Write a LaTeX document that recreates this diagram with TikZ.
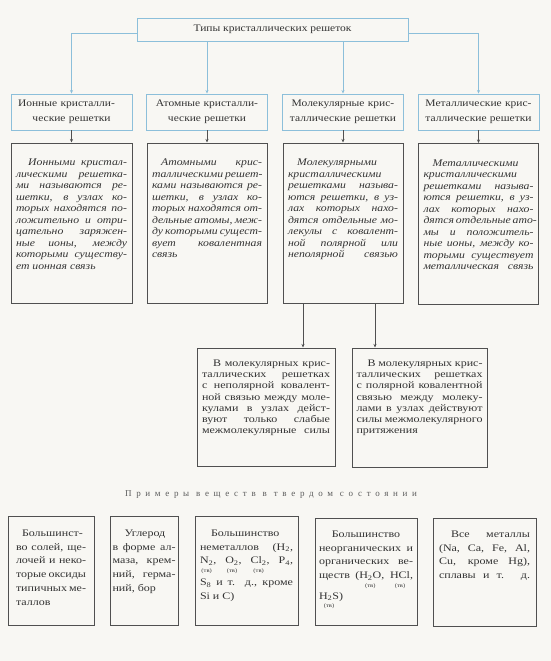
\documentclass[tikz,border=0pt]{standalone}
\usepackage{fontspec}
\setmainfont[FakeStretch=1.15]{Liberation Serif}
\newfontfamily\wide[FakeStretch=1.2]{Liberation Serif}
\newfontfamily\itf[FakeStretch=1.15]{Liberation Serif Italic}
\newfontfamily\spacedfont[LetterSpace=52]{Liberation Serif}
\usetikzlibrary{arrows.meta}
\definecolor{bg}{HTML}{F8F7F3}
\definecolor{bl}{HTML}{8CBFDA}
\definecolor{ink}{HTML}{333333}
\definecolor{frm}{HTML}{505050}
\newcommand\JL[1]{\makebox[\linewidth][s]{#1}}
% width height padx padtop content
\newcommand\bx[5]{\parbox[c][#2][t]{#1}{\vspace*{#4}\hspace*{#3}\begin{minipage}[t]{\dimexpr#1-#3-#3\relax}#5\end{minipage}}}
\newcommand\tv[1]{\leavevmode\setbox0\hbox{#1}\rlap{\raisebox{-8.5pt}[0pt][0pt]{\hbox to \wd0{\hss\fontsize{5.5}{6}\selectfont(тв)\hss}}}\box0}
\newcommand\sub[1]{\textsubscript{#1}}
\tikzset{
  tbox/.style={draw=bl, line width=0.9pt, inner sep=0pt, minimum width=271pt, minimum height=23pt, text=ink, font=\fontsize{10}{12}\selectfont},
  rbox/.style={draw=bl, line width=0.9pt, inner sep=0pt, minimum width=121pt, minimum height=36pt, text width=121pt, align=center, text=ink, font=\fontsize{10}{14.5}\selectfont},
  gbox/.style={draw=frm, line width=1pt, inner sep=0pt, text=ink},
  bconn/.style={draw=bl, line width=0.8pt, -{Stealth[length=3.5pt,width=3pt]}},
  gconn/.style={draw=frm, line width=0.7pt, -{Stealth[length=3.5pt,width=3pt]}},
}
\begin{document}
\begin{tikzpicture}[x=1pt,y=-1pt]
\fill[bg] (0,0) rectangle (551,661);
\useasboundingbox (0,0) rectangle (551,661);

\node[tbox] (top) at (272.5,29.5) {Типы кристаллических решеток};

\node[rbox] (i2) at (71.5,112) {\makebox[107pt][s]{Ионные кристалли-}\\ческие решетки};
\node[rbox] (a2) at (207,112) {Атомные кристалли-\\ческие решетки};
\node[rbox] (mo2) at (343,112) {Молекулярные крис-\\таллические решетки};
\node[rbox] (me2) at (478.5,112) {Металлические крис-\\таллические решетки};

\draw[bconn] ([yshift=-3.5pt]top.west) -| (i2.north);
\draw[bconn] (top.south -| a2.north) -- (a2.north);
\draw[bconn] (top.south -| mo2.north) -- (mo2.north);
\draw[bconn] ([yshift=-3.5pt]top.east) -| (me2.north);

\node[gbox] (i3) at (71.5,223) {\bx{121pt}{160pt}{5pt}{16pt}{\itf\fontsize{10.2}{11.5}\selectfont
\JL{\hspace*{1.2em}Ионными кристал-}\\
\JL{лическими решетка-}\\
\JL{ми называются ре-}\\
\JL{шетки, в узлах ко-}\\
\JL{торых находятся по-}\\
\JL{ложительно и отри-}\\
\JL{цательно заряжен-}\\
\JL{ные ионы, между}\\
\JL{которыми существу-}\\
ет ионная связь}};

\node[gbox] (a3) at (207,223) {\bx{120pt}{160pt}{5pt}{16pt}{\itf\fontsize{10.2}{11.5}\selectfont
\JL{\hspace*{0.9em}Атомными крис-}\\
\JL{таллическими решет-}\\
\JL{ками называются ре-}\\
\JL{шетки, в узлах ко-}\\
\JL{торых находятся от-}\\
\JL{дельные атомы, меж-}\\
\JL{ду которыми сущест-}\\
\JL{вует ковалентная}\\
связь}};

\node[gbox] (mo3) at (343,223) {\bx{120pt}{160pt}{5pt}{16pt}{\itf\fontsize{10.2}{11.5}\selectfont
\hspace*{0.9em}Молекулярными\\
кристаллическими\\
\JL{решетками называ-}\\
\JL{ются решетки, в уз-}\\
\JL{лах которых нахо-}\\
\JL{дятся отдельные мо-}\\
\JL{лекулы с ковалент-}\\
\JL{ной полярной или}\\
\JL{неполярной связью}}};

\node[gbox] (me3) at (478.5,224) {\bx{120pt}{161pt}{5pt}{16pt}{\itf\fontsize{10.2}{11.5}\selectfont
\hspace*{0.9em}Металлическими\\
кристаллическими\\
\JL{решетками называ-}\\
\JL{ются решетки, в уз-}\\
\JL{лах которых нахо-}\\
\JL{дятся отдельные ато-}\\
\JL{мы и положитель-}\\
\JL{ные ионы, между ко-}\\
\JL{торыми существует}\\
\JL{металлическая связь}}};

\draw[gconn] (i2.south) -- (i3.north);
\draw[gconn] (a2.south) -- (a3.north);
\draw[gconn] (mo2.south) -- (mo3.north);
\draw[gconn] (me2.south) -- (me3.north);

\node[gbox] (l4) at (266,407) {\bx{138pt}{118pt}{5pt}{12pt}{\wide\fontsize{10}{11.2}\selectfont
\JL{\hspace*{1.1em}В молекулярных крис-}\\
\JL{таллических решетках}\\
\JL{с неполярной ковалент-}\\
\JL{ной связью между моле-}\\
\JL{кулами в узлах дейст-}\\
\JL{вуют только слабые}\\
\JL{межмолекулярные силы}}};

\node[gbox] (r4) at (419.5,407.5) {\bx{135pt}{119pt}{4.5pt}{12pt}{\wide\fontsize{10}{11.2}\selectfont
\JL{\hspace*{1.1em}В молекулярных крис-}\\
\JL{таллических решетках}\\
\JL{с полярной ковалентной}\\
\JL{связью между молеку-}\\
\JL{лами в узлах действуют}\\
\JL{силы межмолекулярного}\\
притяжения}};

\coordinate (p1) at (303,0);
\coordinate (p2) at (375,0);
\draw[gconn] (mo3.south -| p1) -- (l4.north -| p1);
\draw[gconn] (mo3.south -| p2) -- (r4.north -| p2);

\node[text=ink!80] (hd) at (271,495) {\spacedfont\fontsize{9}{11}\selectfont Примеры веществ в твердом состоянии};

\node[gbox] (b1) at (51,570.5) {\bx{86pt}{109pt}{8pt}{14pt}{\wide\fontsize{10}{13.7}\selectfont
\hspace*{0.6em}Большинст-\\
\JL{во солей, ще-}\\
\JL{лочей и неко-}\\
\JL{торые оксиды}\\
\JL{типичных ме-}\\
таллов}};

\node[gbox] (b2) at (144,570.5) {\bx{68pt}{109pt}{2.5pt}{14pt}{\wide\fontsize{10}{13.7}\selectfont
\hspace*{1.2em}Углерод\\
\JL{в форме ал-}\\
\JL{маза, крем-}\\
\JL{ний, герма-}\\
ний, бор}};

\node[gbox] (b3) at (246.5,570.5) {\bx{103pt}{109pt}{5pt}{14pt}{\wide\fontsize{10}{13.7}\selectfont
\hspace*{1.1em}Большинство\\
\JL{неметаллов (H\sub{2},}\\
\JL{\tv{N\sub{2}}, \tv{O\sub{2}}, \tv{Cl\sub{2}}, P\sub{4},}\\[8pt]
\JL{S\sub{8} и т. д., кроме}\\
Si и C)}};

\node[gbox] (b4) at (366,571.5) {\bx{102pt}{107pt}{4pt}{13pt}{\wide\fontsize{10}{13.7}\selectfont
\makebox[\linewidth]{Большинство}\\
\JL{неорганических и}\\
\JL{органических ве-}\\
\JL{ществ (\tv{H\sub{2}O}, \tv{HCl},}\\[7pt]
\tv{H\sub{2}S} )}};

\node[gbox] (b5) at (484.5,572) {\bx{103pt}{108pt}{6pt}{13pt}{\wide\fontsize{10}{13.7}\selectfont
\JL{\hspace*{1.2em}Все металлы}\\
\JL{(Na, Ca, Fe, Al,}\\
\JL{Cu, кроме Hg),}\\
\JL{сплавы и т. д.}}};
\end{tikzpicture}
\end{document}
